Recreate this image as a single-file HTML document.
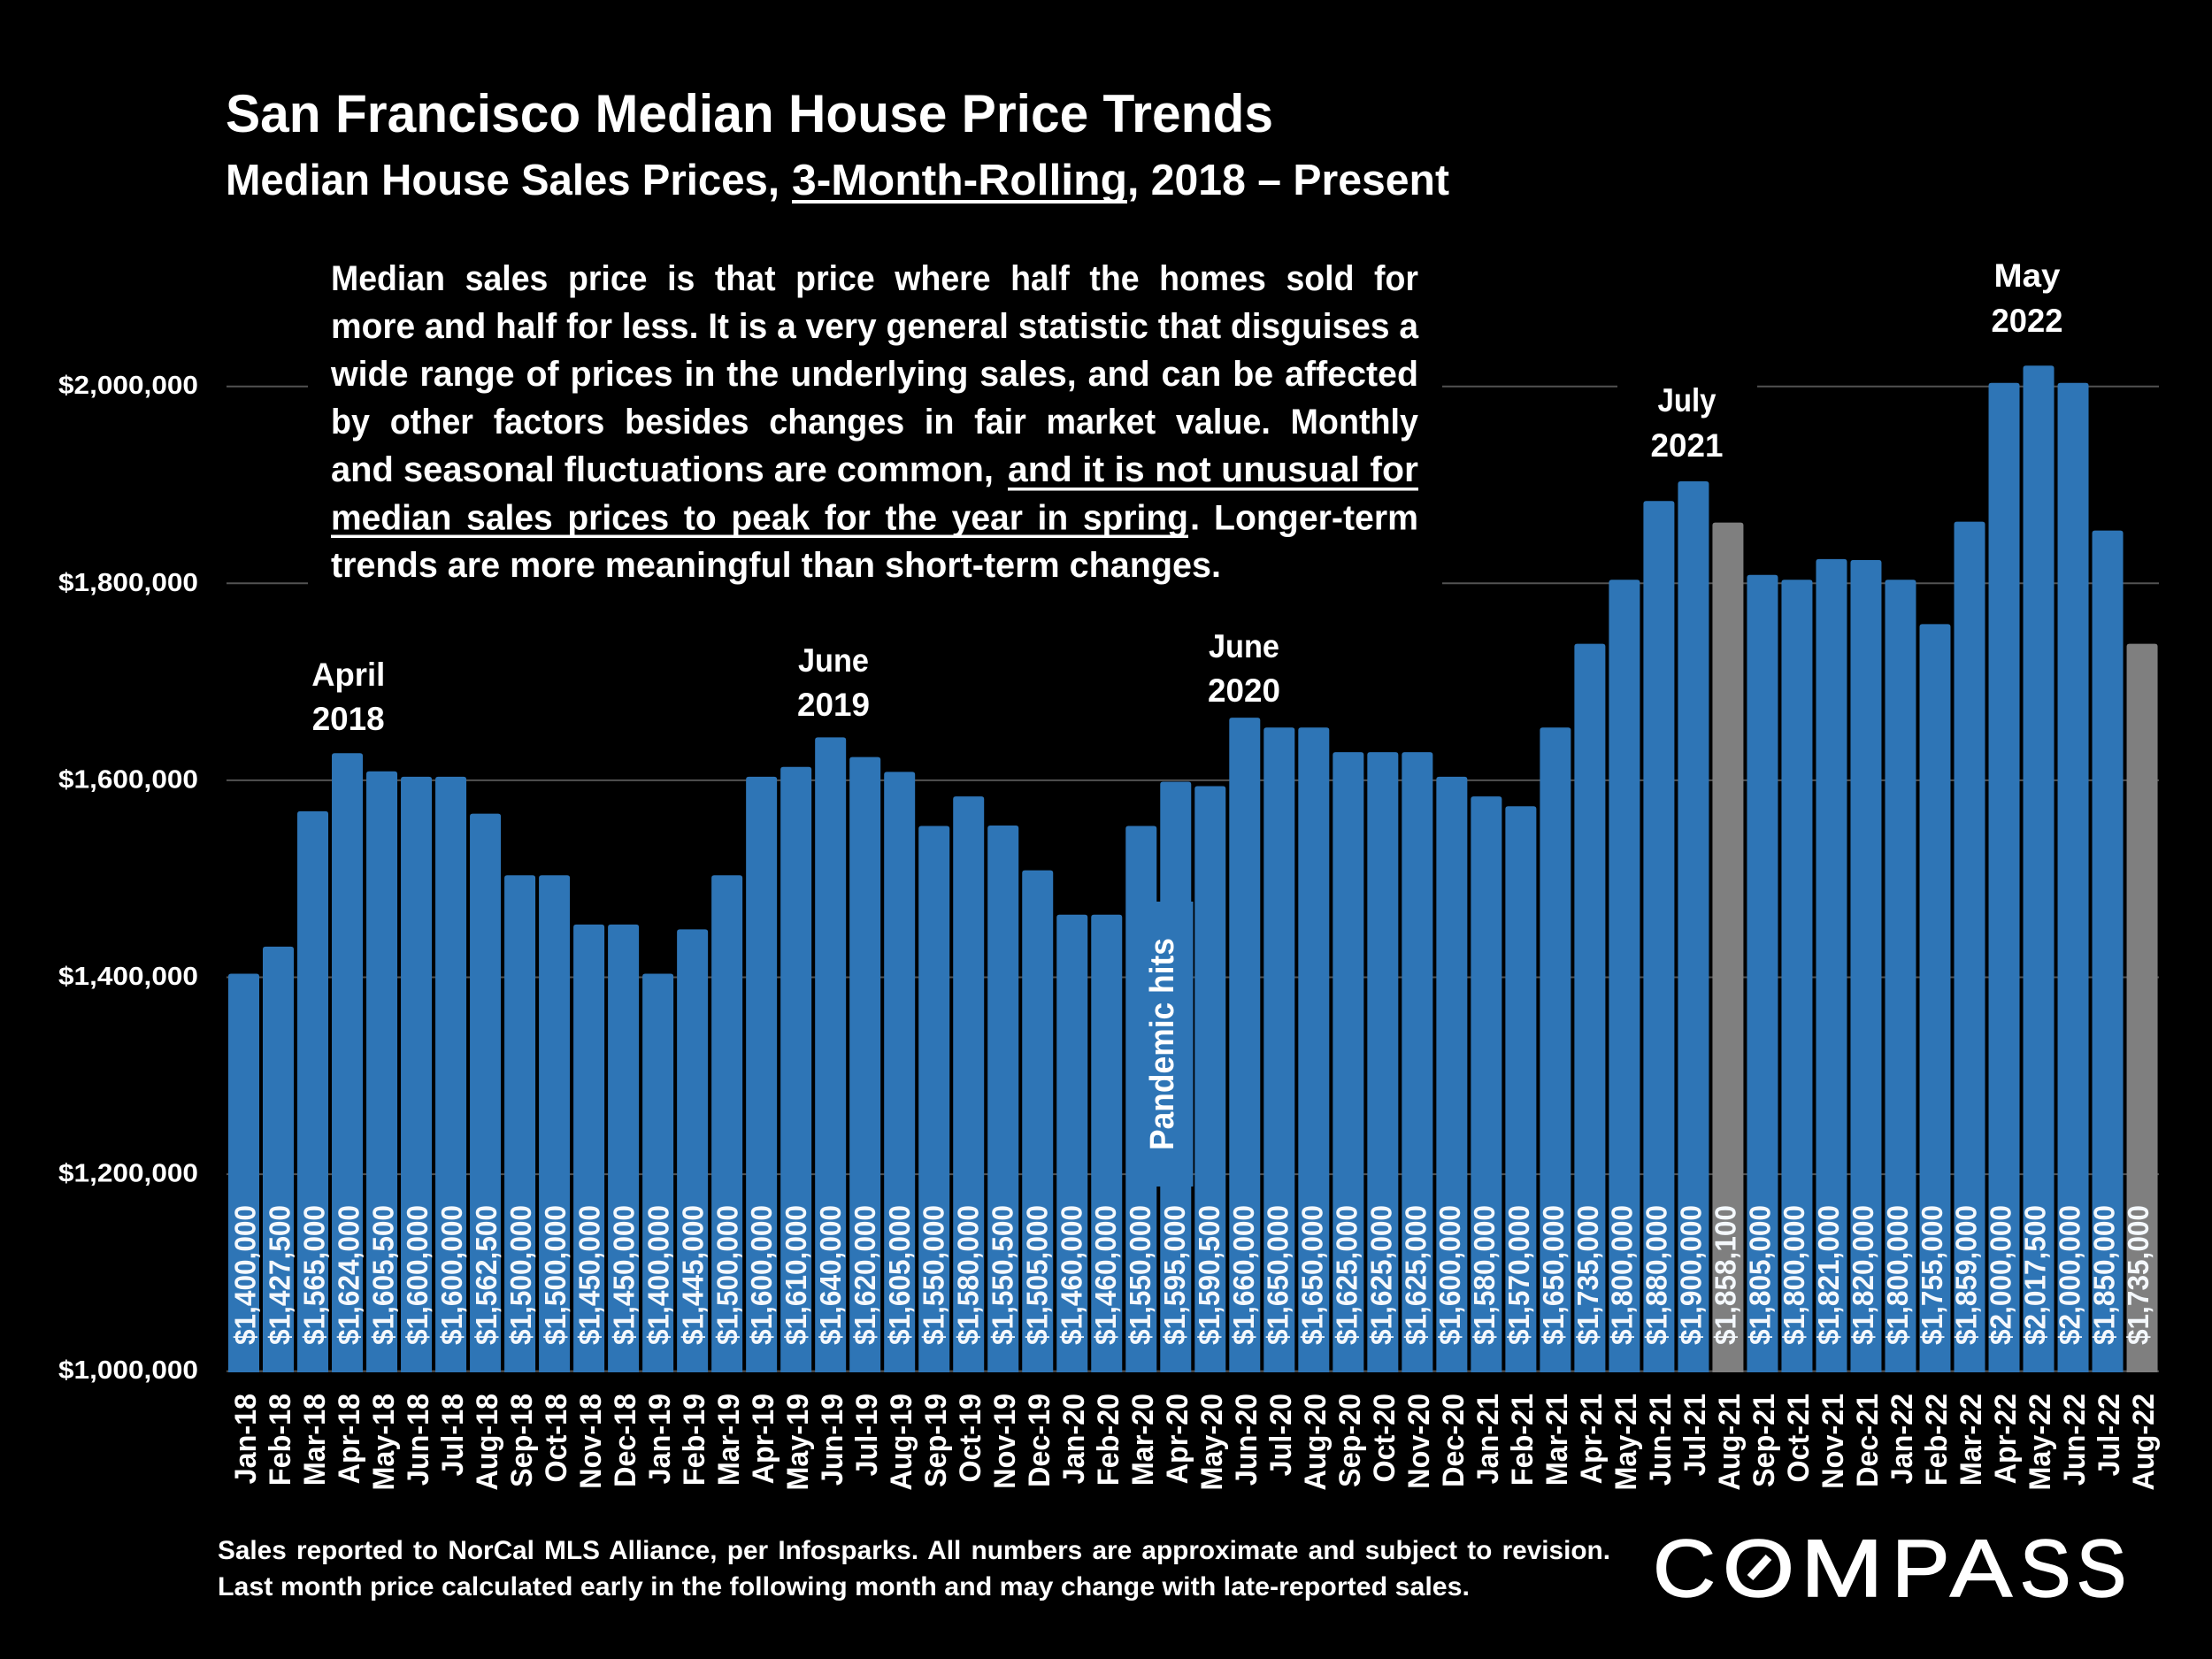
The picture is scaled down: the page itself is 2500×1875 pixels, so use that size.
<!DOCTYPE html>
<html lang="en">
<head>
<meta charset="utf-8">
<title>San Francisco Median House Price Trends</title>
<style>
html,body{margin:0;padding:0;background:#000;width:2500px;height:1875px;overflow:hidden}
svg{display:block}
text{font-family:"Liberation Sans",sans-serif;font-weight:700;fill:#fff}
</style>
</head>
<body>
<svg id="chart" xmlns="http://www.w3.org/2000/svg" width="2500" height="1875" viewBox="0 0 2500 1875">
  <rect x="0" y="0" width="2500" height="1875" fill="#000"/>
  <g id="grid"></g>
  <rect x="348" y="280" width="1282" height="392" fill="#000"/>
  <rect x="1828" y="420" width="158" height="110" fill="#000"/>
  <g id="yaxis"></g>
  <g id="bars"></g>
  <rect x="1307" y="1019" width="41.5" height="322" fill="#2E75B6"/>
  <g id="values"></g>
  <g id="xaxis"></g>

  <text x="255" y="149" font-size="60" textLength="1184" lengthAdjust="spacingAndGlyphs">San Francisco Median House Price Trends</text>
  <text x="255" y="220" font-size="49" textLength="626" lengthAdjust="spacingAndGlyphs">Median House Sales Prices,</text>
  <text x="895" y="220" font-size="49" textLength="379" lengthAdjust="spacingAndGlyphs">3-Month-Rolling</text>
  <text x="1274" y="220" font-size="49" textLength="364" lengthAdjust="spacingAndGlyphs">, 2018 – Present</text>
  <rect x="895" y="226" width="379" height="4" fill="#fff"/>

  <g font-size="40">
    <text x="374" y="328" word-spacing="13" textLength="1229" lengthAdjust="spacingAndGlyphs">Median sales price is that price where half the homes sold for</text>
    <text x="374" y="382" textLength="1229" lengthAdjust="spacingAndGlyphs">more and half for less. It is a very general statistic that disguises a</text>
    <text x="374" y="436" word-spacing="2" textLength="1229" lengthAdjust="spacingAndGlyphs">wide range of prices in the underlying sales, and can be affected</text>
    <text x="374" y="490" word-spacing="13" textLength="1229" lengthAdjust="spacingAndGlyphs">by other factors besides changes in fair market value. Monthly</text>
    <text x="374" y="544" textLength="749" lengthAdjust="spacingAndGlyphs">and seasonal fluctuations are common,</text>
    <text x="1139" y="544" textLength="464" lengthAdjust="spacingAndGlyphs">and it is not unusual for</text>
    <rect x="1139" y="551" width="464" height="3.5" fill="#fff"/>
    <text x="374" y="598.5" word-spacing="6" textLength="969" lengthAdjust="spacingAndGlyphs">median sales prices to peak for the year in spring</text>
    <rect x="374" y="604.5" width="969" height="3.5" fill="#fff"/>
    <text x="1345" y="598.5">.</text>
    <text x="1372" y="598.5" textLength="231" lengthAdjust="spacingAndGlyphs">Longer-term</text>
    <text x="374" y="652" textLength="1006" lengthAdjust="spacingAndGlyphs">trends are more meaningful than short-term changes.</text>
  </g>

  <g font-size="37" text-anchor="middle">
    <text x="393.7" y="775" textLength="83" lengthAdjust="spacingAndGlyphs">April</text>
    <text x="393.7" y="825" textLength="82" lengthAdjust="spacingAndGlyphs">2018</text>
    <text x="942" y="759" textLength="80" lengthAdjust="spacingAndGlyphs">June</text>
    <text x="942" y="809" textLength="82" lengthAdjust="spacingAndGlyphs">2019</text>
    <text x="1406" y="743" textLength="80" lengthAdjust="spacingAndGlyphs">June</text>
    <text x="1406" y="793" textLength="82" lengthAdjust="spacingAndGlyphs">2020</text>
    <text x="1906.5" y="465" textLength="66" lengthAdjust="spacingAndGlyphs">July</text>
    <text x="1906.5" y="516" textLength="82" lengthAdjust="spacingAndGlyphs">2021</text>
    <text x="2291" y="324" textLength="75" lengthAdjust="spacingAndGlyphs">May</text>
    <text x="2291" y="375" textLength="81" lengthAdjust="spacingAndGlyphs">2022</text>
  </g>

  <text transform="translate(1326 1300) rotate(-90)" font-size="38" textLength="240" lengthAdjust="spacingAndGlyphs">Pandemic hits</text>

  <g font-size="30">
    <text x="246" y="1762" word-spacing="3" textLength="1574" lengthAdjust="spacingAndGlyphs">Sales reported to NorCal MLS Alliance, per Infosparks. All numbers are approximate and subject to revision.</text>
    <text x="246" y="1803" textLength="1415" lengthAdjust="spacingAndGlyphs">Last month price calculated early in the following month and may change with late-reported sales.</text>
  </g>

  <g>
    <text y="1804" font-size="92" stroke="#fff" stroke-width="1.5" style="font-weight:400"><tspan x="1868" textLength="71" lengthAdjust="spacingAndGlyphs">C</tspan><tspan x="1947" textLength="81" lengthAdjust="spacingAndGlyphs">O</tspan><tspan x="2035" textLength="93.6" lengthAdjust="spacingAndGlyphs">M</tspan><tspan x="2138" textLength="65.6" lengthAdjust="spacingAndGlyphs">P</tspan><tspan x="2204" textLength="70" lengthAdjust="spacingAndGlyphs">A</tspan><tspan x="2282.7" textLength="57.7" lengthAdjust="spacingAndGlyphs">S</tspan><tspan x="2346.7" textLength="56.5" lengthAdjust="spacingAndGlyphs">S</tspan></text>
    <line x1="1978" y1="1783" x2="1999" y2="1760" stroke="#fff" stroke-width="9"/>
  </g>
</svg>

<script>
const categories = ['Jan-18','Feb-18','Mar-18','Apr-18','May-18','Jun-18','Jul-18','Aug-18','Sep-18','Oct-18','Nov-18','Dec-18',
  'Jan-19','Feb-19','Mar-19','Apr-19','May-19','Jun-19','Jul-19','Aug-19','Sep-19','Oct-19','Nov-19','Dec-19',
  'Jan-20','Feb-20','Mar-20','Apr-20','May-20','Jun-20','Jul-20','Aug-20','Sep-20','Oct-20','Nov-20','Dec-20',
  'Jan-21','Feb-21','Mar-21','Apr-21','May-21','Jun-21','Jul-21','Aug-21','Sep-21','Oct-21','Nov-21','Dec-21',
  'Jan-22','Feb-22','Mar-22','Apr-22','May-22','Jun-22','Jul-22','Aug-22'];
const medianPrices = [1400000,1427500,1565000,1624000,1605500,1600000,1600000,1562500,1500000,1500000,1450000,1450000,
  1400000,1445000,1500000,1600000,1610000,1640000,1620000,1605000,1550000,1580000,1550500,1505000,
  1460000,1460000,1550000,1595000,1590500,1660000,1650000,1650000,1625000,1625000,1625000,1600000,
  1580000,1570000,1650000,1735000,1800000,1880000,1900000,1858100,1805000,1800000,1821000,1820000,
  1800000,1755000,1859000,2000000,2017500,2000000,1850000,1735000];
const grayMonths = ['Aug-21','Aug-22'];
const yTicks = [1000000,1200000,1400000,1600000,1800000,2000000];

const NS = 'http://www.w3.org/2000/svg';
const yMin = 1000000, yMax = 2000000;
function yScale(v){ return 1549.7 - (v - yMin) / (yMax - yMin) * 1113; }
function barLeft(i){ return 258 + i * 39.01; }
function money(v){ return '$' + v.toLocaleString('en-US'); }
function make(tag, parent){ const el = document.createElementNS(NS, tag); parent.appendChild(el); return el; }

const gridGroup = document.getElementById('grid');
const yGroup = document.getElementById('yaxis');
yTicks.forEach(function(t){
  const line = make('line', gridGroup);
  
  
  line.setAttribute('x1', 256);
  line.setAttribute('x2', 2440);
  line.setAttribute('y1', yScale(t));
  line.setAttribute('y2', yScale(t));
  line.setAttribute('stroke', '#525252');
  line.setAttribute('stroke-width', 2);
  const label = make('text', yGroup);
  
  
  label.setAttribute('x', 224);
  label.setAttribute('y', yScale(t) + 8.5);
  label.setAttribute('text-anchor', 'end');
  label.setAttribute('font-size', 29);
  label.setAttribute('textLength', 158);
  label.setAttribute('lengthAdjust', 'spacingAndGlyphs');
  label.textContent = money(t);
});

const barGroup = document.getElementById('bars');
const valueGroup = document.getElementById('values');
const xGroup = document.getElementById('xaxis');
const barW = 35, barBottom = 1551, barLift = 4, r = 3;
medianPrices.forEach(function(v, i){
  const x = barLeft(i);
  const top = yScale(v) - barLift;
  const bar = make('path', barGroup);
  
  
  bar.setAttribute('d', 'M' + x + ' ' + barBottom + 'V' + (top + r) + 'Q' + x + ' ' + top + ' ' + (x + r) + ' ' + top +
    'H' + (x + barW - r) + 'Q' + (x + barW) + ' ' + top + ' ' + (x + barW) + ' ' + (top + r) + 'V' + barBottom + 'Z');
  bar.setAttribute('fill', grayMonths.indexOf(categories[i]) >= 0 ? '#7F7F7F' : '#2E75B6');

  const lx = 288.7 + i * 38.9;
  const value = make('text', valueGroup);
  
  
  value.setAttribute('transform', 'translate(' + lx + ' 1520) rotate(-90)');
  value.setAttribute('font-size', 33);
  value.setAttribute('textLength', 158);
  value.setAttribute('lengthAdjust', 'spacingAndGlyphs');
  value.setAttribute('style', 'fill:#f4f8fc');
  value.textContent = money(v);

  const tx = 289 + i * 39.0;
  const tick = make('text', xGroup);
  
  
  tick.setAttribute('transform', 'translate(' + tx + ' 1575) rotate(-90) scale(0.95 1)');
  tick.setAttribute('text-anchor', 'end');
  tick.setAttribute('font-size', 34);
  tick.textContent = categories[i];
});
</script>
</body>
</html>
